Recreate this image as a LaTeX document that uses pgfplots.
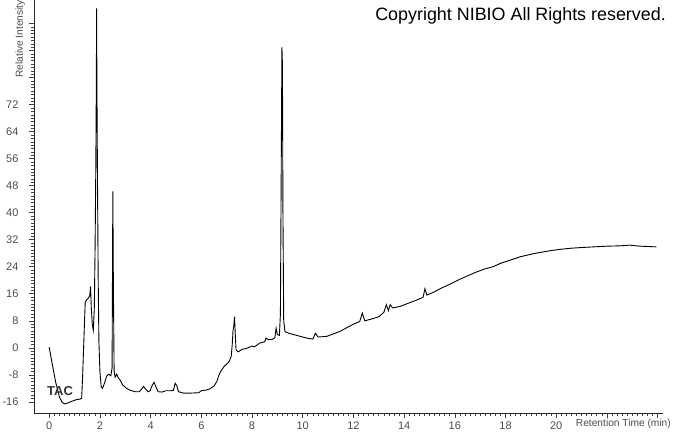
\documentclass[border=0pt]{standalone}
\usepackage{pgfplots}
\pgfplotsset{compat=1.18}
\usepackage{fontspec}
\setmainfont{Liberation Sans}
\begin{document}
\begin{tikzpicture}[x=1pt,y=1pt]
\begin{axis}[
  scale only axis, width=628.7pt, height=413pt,
  at={(34pt,20pt)}, anchor=south west,
  xmin=-0.6, xmax=24.2, ymin=-19.3, ymax=103,
  axis lines=left, axis line style={-, line width=0.7pt, color=black!85},
  tick align=outside,
  major tick length=5pt, minor tick length=3pt,
  xtick={0,2,...,24}, xticklabels={0,2,4,6,8,10,12,14,16,18,20,,},
  ytick={-16,-8,...,96}, yticklabels={-16,-8,0,8,16,24,32,40,48,56,64,72,,,},
  minor x tick num=9, minor y tick num=7,
  tick style={color=black!75, line width=0.6pt},
  every tick label/.append style={font=\fontsize{11}{13}\selectfont, text=black!70},
  yticklabel style={xshift=-7pt},
  clip=false,
]
\addplot[black, line width=0.9pt] coordinates {
(0.00,0.2) (0.10,-4) (0.25,-10) (0.40,-14.5) (0.50,-16.0) (0.60,-16.6) (0.75,-16.3) (0.90,-15.8)
(1.05,-15.4) (1.20,-15.2) (1.28,-15.0) (1.32,-8) (1.38,5) (1.42,13.5) (1.48,14.2) (1.55,14.8)
(1.60,15.5) (1.63,18.2) (1.66,12) (1.70,7) (1.74,5.2) (1.78,12) (1.81,30) (1.84,55) (1.86,80)
(1.87,100.5) (1.88,80) (1.90,55) (1.93,22) (1.96,2) (2.00,-7) (2.05,-11.5) (2.10,-12.0)
(2.18,-10.5) (2.27,-8.3) (2.35,-7.8) (2.43,-8.3) (2.48,-6) (2.51,46.3) (2.53,20) (2.56,-7)
(2.60,-8.7) (2.66,-7.8) (2.72,-8.8) (2.80,-9.6) (2.90,-11) (3.05,-12) (3.20,-12.6) (3.40,-13.0)
(3.55,-13.0) (3.65,-12.2) (3.72,-11.4) (3.80,-12.2) (3.90,-13.0) (3.98,-12.7) (4.07,-11.0)
(4.14,-10.2) (4.22,-11.8) (4.30,-13.0) (4.45,-13.1) (4.60,-12.7) (4.80,-12.7) (4.90,-12.6)
(4.97,-10.5) (5.03,-11.2) (5.10,-13.0) (5.30,-13.4) (5.60,-13.4) (5.90,-13.3) (6.00,-12.7)
(6.20,-12.5) (6.35,-12.1) (6.50,-11.3) (6.61,-10.0) (6.70,-8.0) (6.78,-6.8) (6.90,-5.5)
(7.05,-4.5) (7.12,-3.7) (7.18,-2.5) (7.22,1) (7.25,5) (7.28,6.5) (7.31,9.2) (7.34,4) (7.37,-0.6)
(7.45,-1.2) (7.60,-0.5) (7.80,-0.1) (8.00,0.5) (8.10,0.3) (8.30,1.4) (8.50,1.8) (8.55,2.9)
(8.65,2.4) (8.80,2.5) (8.90,3.0) (8.95,5.8) (9.00,3.9) (9.08,3.7) (9.12,10) (9.15,50) (9.18,89)
(9.20,84) (9.22,40) (9.25,8) (9.30,4.8) (9.45,4.3) (9.65,3.9) (9.90,3.4) (10.15,2.9) (10.40,2.6)
(10.50,4.3) (10.60,3.2) (10.95,3.4) (11.20,4.1) (11.45,4.8) (11.70,5.8) (12.00,7.0) (12.25,7.8)
(12.35,10.3) (12.45,8.0) (12.70,8.5) (13.00,9.2) (13.20,10.5) (13.30,12.8) (13.38,11) (13.45,12.8)
(13.55,11.8) (13.85,12.3) (14.20,13.3) (14.55,14.3) (14.75,15.0) (14.82,17.5) (14.90,15.6)
(15.20,16.6) (15.50,17.8) (15.80,18.8) (16.20,20.3) (16.50,21.3) (16.80,22.3) (17.20,23.4)
(17.50,24.0) (17.80,25.0) (18.20,26.0) (18.60,27.0) (19.00,27.7) (19.40,28.3) (19.80,28.8)
(20.20,29.2) (20.60,29.5) (21.00,29.7) (21.50,29.9) (22.00,30.1) (22.50,30.2) (22.90,30.4)
(23.30,30.1) (23.95,29.9)
};
\end{axis}
\node[rotate=90, anchor=base west, inner sep=0pt, font=\fontsize{10.2}{12}\selectfont, text=black!70] at (23pt,355pt) {Relative Intensity};
\node[anchor=base east, inner sep=0pt, font=\fontsize{17.9}{20}\selectfont] at (666pt,412pt) {Copyright NIBIO All Rights reserved.};
\node[anchor=base west, inner sep=0pt, font=\bfseries\fontsize{13}{14}\selectfont, text=black!80] at (47pt,37pt) {TAC};
\node[anchor=base east, inner sep=0pt, font=\fontsize{10.2}{12}\selectfont, text=black!70] at (671pt,6pt) {Retention Time (min)};
\pgfresetboundingbox
\path[use as bounding box] (0,0) rectangle (673pt,433pt);
\end{tikzpicture}
\end{document}
